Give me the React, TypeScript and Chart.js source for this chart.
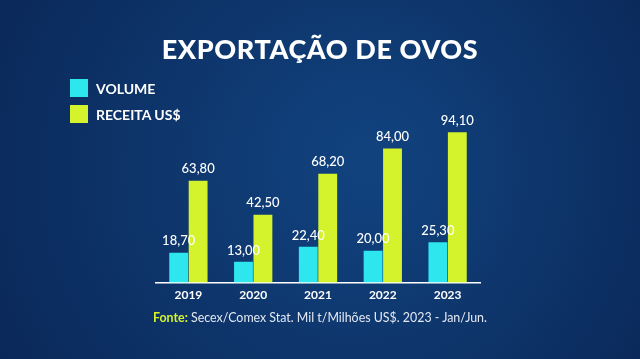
import React, { useEffect, useRef } from "react";
import { Chart, registerables } from "chart.js";

Chart.register(...registerables);

const categories = ["2019", "2020", "2021", "2022", "2023"];
const volume = [18.7, 13.0, 22.4, 20.0, 25.3];
const receita = [63.8, 42.5, 68.2, 84.0, 94.1];
const seriesNames = ["VOLUME", "RECEITA US$"];
const seriesColors = ["#2ee6ee", "#d4f32c"];

const fmt = (v: number) => v.toFixed(2).replace(".", ",");

const labelPlugin = {
  id: "valueLabels",
  afterDatasetsDraw(chart: any) {
    const ctx = chart.ctx;
    ctx.save();
    ctx.font = "500 13px Lato, 'Open Sans', sans-serif";
    ctx.fillStyle = "#ffffff";
    ctx.textAlign = "center";
    ctx.textBaseline = "bottom";
    chart.data.datasets.forEach((ds: any, i: number) => {
      const meta = chart.getDatasetMeta(i);
      meta.data.forEach((el: any, j: number) => {
        ctx.fillText(fmt(ds.data[j]), el.x, el.y - 5);
      });
    });
    ctx.restore();
  },
};

const bgPlugin = {
  id: "bg",
  beforeDraw(chart: any) {
    const { ctx, width, height } = chart;
    ctx.save();
    const g = ctx.createRadialGradient(width * 0.58, height * 0.45, 20, width * 0.5, height * 0.5, width * 0.7);
    g.addColorStop(0, "#11427e");
    g.addColorStop(1, "#092351");
    ctx.fillStyle = g;
    ctx.fillRect(0, 0, width, height);
    ctx.restore();
  },
};

export default function App() {
  const ref = useRef<HTMLCanvasElement>(null);
  useEffect(() => {
    if (!ref.current) return;
    const chart = new Chart(ref.current, {
      type: "bar",
      data: {
        labels: categories,
        datasets: [
          { label: seriesNames[0], data: volume, backgroundColor: seriesColors[0], barPercentage: 0.97, categoryPercentage: 0.6 },
          { label: seriesNames[1], data: receita, backgroundColor: seriesColors[1], barPercentage: 0.97, categoryPercentage: 0.6 },
        ],
      },
      options: {
        animation: false,
        responsive: false,
        maintainAspectRatio: false,
        layout: { padding: { left: 156, right: 160, top: 100, bottom: 52 } },
        plugins: { legend: { display: false }, tooltip: { enabled: false }, title: { display: false } },
        scales: {
          x: {
            grid: { display: false, drawTicks: false },
            border: { display: true, color: "#ffffff", width: 1.5 },
            ticks: { color: "#ffffff", padding: 5, font: { family: "Lato, 'Open Sans', sans-serif", size: 12, weight: "bold" } },
          },
          y: { display: false, min: 0, max: 114.3 },
        },
      },
      plugins: [bgPlugin, labelPlugin],
    });
    return () => chart.destroy();
  }, []);

  const font = "Lato, 'Open Sans', sans-serif";
  return (
    <div style={{ position: "fixed", left: 0, top: 0, width: 640, height: 359, overflow: "hidden" }}>
      <canvas ref={ref} width={640} height={359} style={{ position: "absolute", left: 0, top: 0 }} />
      <div style={{ position: "absolute", left: 0, width: 640, top: 32, textAlign: "center", color: "#fff", fontFamily: font, fontWeight: 900, fontSize: 27, letterSpacing: 0.6 }}>
        EXPORTAÇÃO DE OVOS
      </div>
      {seriesNames.map((n, i) => (
        <div key={n} style={{ position: "absolute", left: 70, top: 79 + i * 26, display: "flex", alignItems: "center", fontFamily: font, color: "#fff", fontSize: 14, fontWeight: 700 }}>
          <div style={{ width: 18, height: 18, background: seriesColors[i], marginRight: 8 }} />
          {n}
        </div>
      ))}
      <div style={{ position: "absolute", left: 0, width: 640, top: 310, textAlign: "center", color: "#e3e9f3", fontFamily: font, fontSize: 12.4 }}>
        <span style={{ color: "#d4f32c", fontWeight: 700 }}>Fonte:</span> Secex/Comex Stat. Mil t/Milhões US$. 2023 - Jan/Jun.
      </div>
    </div>
  );
}
